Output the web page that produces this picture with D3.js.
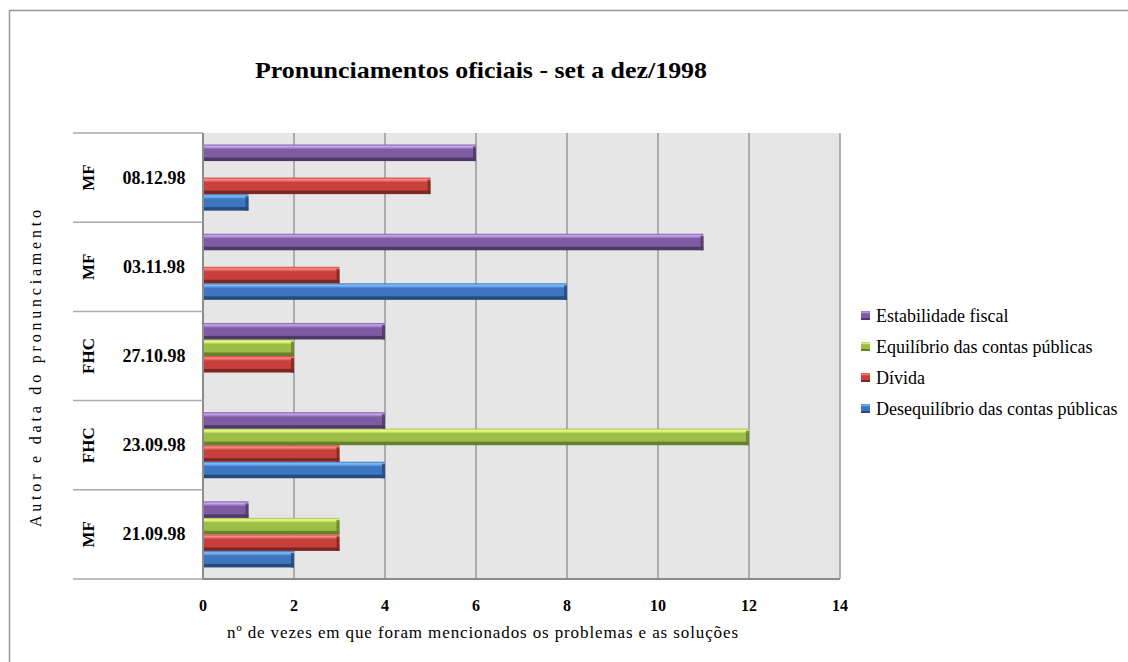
<!DOCTYPE html>
<html>
<head>
    <meta charset="UTF-8">
    <style>
        body { margin: 0; background: #fff; }
        svg { display: block; }
        text { font-family: "Liberation Serif", "Times New Roman", Times, serif; fill: #000; }
    </style>
</head>
<body>
    <svg></svg>
    <script src="https://d3js.org/d3.v7.min.js"></script>
    <script>
        let width = 1128, height = 662;

        // data (bottom to top, as in the chart)
        const dates = ["21.09.98", "23.09.98", "27.10.98", "03.11.98", "08.12.98"];
        const authors = ["MF", "FHC", "FHC", "MF", "MF"];
        const seriesNames = ["Desequilíbrio das contas públicas", "Dívida", "Equilíbrio das contas públicas", "Estabilidade fiscal"];
        const desequilibrio = [2, 4, 0, 8, 1];
        const divida = [3, 3, 2, 3, 5];
        const equilibrio = [3, 12, 2, 0, 0];
        const estabilidade = [1, 4, 4, 11, 6];
        const xTicks = [0, 2, 4, 6, 8, 10, 12, 14];

        const seriesValues = [desequilibrio, divida, equilibrio, estabilidade];
        // light, mid, dark
        const colors = [
            ["#80c0ff", "#3d75c0", "#254a7c"],
            ["#ff8d88", "#c8403c", "#7e2624"],
            ["#f0ff8a", "#9cbd46", "#66812a"],
            ["#caa8f2", "#7d5ca2", "#4d3868"]
        ];

        let svg = d3.select("svg")
            .attr("width", width)
            .attr("height", height);

        // outer frame
        svg.append("rect")
            .attr("x", 9.5).attr("y", 10.5)
            .attr("width", width + 20).attr("height", height + 20)
            .attr("fill", "none").attr("stroke", "#999").attr("stroke-width", 1.5);

        const plotLeft = 203, plotRight = 840, plotTop = 133, plotBottom = 579;

        let x = d3.scaleLinear().domain([0, 14]).range([plotLeft, plotRight]);
        let y = d3.scaleBand().domain(dates.slice().reverse()).range([plotTop, plotBottom]);
        let ySub = d3.scaleBand().domain([3, 2, 1, 0])
            .range([0, y.bandwidth()])
            .paddingInner(0).paddingOuter(0.7);

        // gradients
        let defs = svg.append("defs");
        colors.forEach((c, i) => {
            let g = defs.append("linearGradient")
                .attr("id", "grad" + i)
                .attr("x1", 0).attr("y1", 0).attr("x2", 0).attr("y2", 1);
            g.append("stop").attr("offset", "0%").attr("stop-color", c[1]);
            g.append("stop").attr("offset", "12%").attr("stop-color", c[0]);
            g.append("stop").attr("offset", "30%").attr("stop-color", c[1]);
            g.append("stop").attr("offset", "75%").attr("stop-color", c[1]);
            g.append("stop").attr("offset", "82%").attr("stop-color", c[2]);
            g.append("stop").attr("offset", "100%").attr("stop-color", c[2]);
        });

        // plot background
        svg.append("rect")
            .attr("x", plotLeft).attr("y", plotTop)
            .attr("width", plotRight - plotLeft).attr("height", plotBottom - plotTop)
            .attr("fill", "#e6e6e6");

        // vertical gridlines
        svg.append("g")
            .selectAll("line")
            .data(xTicks.slice(1))
            .join("line")
            .attr("x1", d => x(d)).attr("x2", d => x(d))
            .attr("y1", plotTop).attr("y2", plotBottom)
            .attr("stroke", "#999").attr("stroke-width", 1.5);

        // bars
        let rows = [];
        dates.forEach((d, ci) => {
            seriesValues.forEach((vals, si) => {
                rows.push({ date: d, s: si, v: vals[ci] });
            });
        });

        let bars = svg.append("g")
            .selectAll("g")
            .data(rows.filter(r => r.v > 0))
            .join("g");

        bars.append("rect")
            .attr("x", x(0))
            .attr("y", d => y(d.date) + ySub(d.s))
            .attr("width", d => x(d.v) - x(0))
            .attr("height", ySub.bandwidth())
            .attr("fill", d => `url(#grad${d.s})`);

        // bevel at the right end
        bars.append("rect")
            .attr("x", d => x(d.v) - 3)
            .attr("y", d => y(d.date) + ySub(d.s) + 2)
            .attr("width", 3)
            .attr("height", ySub.bandwidth() - 2)
            .attr("fill", d => colors[d.s][2])
            .attr("opacity", 0.8);

        // axis lines
        svg.append("line")
            .attr("x1", plotLeft).attr("x2", plotLeft)
            .attr("y1", plotTop).attr("y2", plotBottom + 1)
            .attr("stroke", "#8c8c8c").attr("stroke-width", 2);
        svg.append("line")
            .attr("x1", plotLeft).attr("x2", plotRight)
            .attr("y1", plotBottom).attr("y2", plotBottom)
            .attr("stroke", "#8c8c8c").attr("stroke-width", 2);

        // category separators
        svg.append("g")
            .selectAll("line")
            .data(d3.range(dates.length + 1))
            .join("line")
            .attr("x1", 73).attr("x2", plotLeft)
            .attr("y1", i => plotTop + i * y.step())
            .attr("y2", i => plotTop + i * y.step())
            .attr("stroke", "#aaa").attr("stroke-width", 1.5);

        // category labels
        dates.forEach((d, i) => {
            let cy = y(d) + y.bandwidth() / 2;
            svg.append("text")
                .attr("x", 154).attr("y", cy + 6)
                .attr("text-anchor", "middle")
                .attr("font-size", 18).attr("font-weight", "bold")
                .text(d);
            svg.append("text")
                .attr("transform", `translate(94,${cy}) rotate(-90)`)
                .attr("text-anchor", "middle")
                .attr("font-size", 17).attr("font-weight", "bold")
                .text(authors[i]);
        });

        // x tick labels
        svg.append("g")
            .selectAll("text")
            .data(xTicks)
            .join("text")
            .attr("x", d => x(d))
            .attr("y", 611)
            .attr("text-anchor", "middle")
            .attr("font-size", 16).attr("font-weight", "bold")
            .text(d => d);

        // axis titles
        svg.append("text")
            .attr("x", 227).attr("y", 638)
            .attr("font-size", 17)
            .attr("textLength", 511)
            .attr("lengthAdjust", "spacing")
            .text("nº de vezes em que foram mencionados os problemas e as soluções");

        svg.append("text")
            .attr("transform", "translate(41,527) rotate(-90)")
            .attr("font-size", 16)
            .attr("textLength", 317)
            .attr("lengthAdjust", "spacing")
            .text("Autor e data do pronunciamento");

        // title
        svg.append("text")
            .attr("x", 255).attr("y", 78)
            .attr("font-size", 24).attr("font-weight", "bold")
            .attr("textLength", 452)
            .attr("lengthAdjust", "spacingAndGlyphs")
            .text("Pronunciamentos oficiais - set a dez/1998");

        // legend (top to bottom: last series first)
        let legend = svg.append("g")
            .selectAll("g")
            .data([3, 2, 1, 0])
            .join("g")
            .attr("transform", (d, i) => `translate(861,${317 + i * 31})`);
        legend.append("rect")
            .attr("x", 0).attr("y", -6)
            .attr("width", 9).attr("height", 9)
            .attr("fill", d => `url(#grad${d})`);
        legend.append("text")
            .attr("x", 15).attr("y", 5)
            .attr("font-size", 18)
            .text(d => seriesNames[d]);
    </script>
</body>
</html>
